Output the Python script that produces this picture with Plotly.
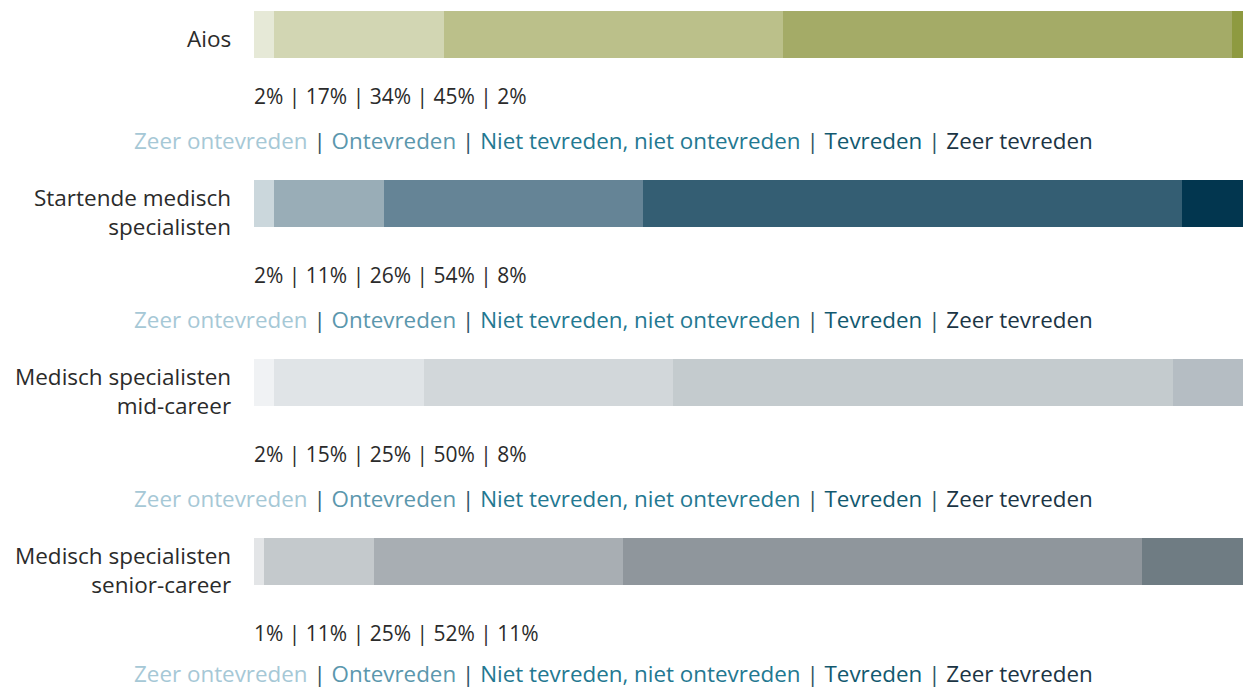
import plotly.graph_objects as go
from plotly.subplots import make_subplots

# Groepen en antwoordcategorieën
GROUPS = ["Aios", "Startende medisch specialisten",
          "Medisch specialisten mid-career", "Medisch specialisten senior-career"]
GROUP_LABELS = ["Aios", "Startende medisch<br>specialisten",
                "Medisch specialisten<br>mid-career",
                "Medisch specialisten<br>senior-career"]
ANSWERS = ["Zeer ontevreden", "Ontevreden", "Niet tevreden, niet ontevreden",
           "Tevreden", "Zeer tevreden"]

aios = [2.0, 17.2, 34.3, 45.4, 1.1]
startende = [2.0, 11.1, 26.2, 54.5, 6.2]
mid_career = [2.0, 15.2, 25.2, 50.5, 7.1]
senior_career = [1.0, 11.1, 25.2, 52.5, 10.2]

# Labels onder de balken
aios_pct = [2, 17, 34, 45, 2]
startende_pct = [2, 11, 26, 54, 8]
mid_career_pct = [2, 15, 25, 50, 8]
senior_career_pct = [1, 11, 25, 52, 11]

VALUES = [aios, startende, mid_career, senior_career]
PCT_LABELS = [aios_pct, startende_pct, mid_career_pct, senior_career_pct]

PALETTES = [
    ["#e6e9d7", "#d2d6b3", "#bbc08a", "#a4ab67", "#8e9a40"],
    ["#cbd7dc", "#99adb7", "#658496", "#345e73", "#02364f"],
    ["#f0f2f4", "#e0e4e7", "#d2d7da", "#c4cbce", "#b5bdc3"],
    ["#e3e5e7", "#c4c9cc", "#a8aeb3", "#8f969c", "#6f7c83"],
]
LEGEND_COLORS = ["#a6c8d6", "#5b97ad", "#237891", "#12596f", "#1b3444"]
SEP_COLOR = "#2f5365"
TEXT_COLOR = "#2b2b2b"
FONT = "'Open Sans', Lato, sans-serif"

W, H = 1243, 689
L = 254
PW = W - L
BAR_TOP = [11, 180, 359, 538]
BAR_H = 47
LABEL_Y = [38, 212, 391, 570]
PCT_Y = [95.5, 274.5, 453.5, 632.5]
LEG_Y = [140, 319, 498, 673]


def py(px):
    """Pixel (van boven) naar paper-coördinaat."""
    return 1 - px / H


def px_x(px):
    return (px - L) / PW


fig = make_subplots(rows=4, cols=1, vertical_spacing=0)

legend_text = " <span style='color:%s'>|</span> " % SEP_COLOR
legend_text = legend_text.join(
    "<span style='color:%s'>%s</span>" % (c, a)
    for c, a in zip(LEGEND_COLORS, ANSWERS))

annotations = []
for i, (group, vals, colors) in enumerate(zip(GROUPS, VALUES, PALETTES)):
    for ans, v, c in zip(ANSWERS, vals, colors):
        fig.add_trace(go.Bar(x=[v], y=[group], orientation="h", name=ans,
                             marker=dict(color=c, line=dict(width=0)),
                             width=1, showlegend=False,
                             hovertemplate=f"{ans}: %{{x:.0f}}%<extra></extra>"),
                      row=i + 1, col=1)
    yname = "yaxis" if i == 0 else f"yaxis{i + 1}"
    fig.layout[yname].domain = [py(BAR_TOP[i] + BAR_H), py(BAR_TOP[i])]

    annotations.append(dict(
        text=GROUP_LABELS[i], xref="paper", yref="paper",
        x=px_x(233), y=py(LABEL_Y[i]), xanchor="right", yanchor="middle",
        align="right", showarrow=False,
        font=dict(size=22.5, color=TEXT_COLOR, family=FONT)))
    annotations.append(dict(
        text=" | ".join(f"{p}%" for p in PCT_LABELS[i]),
        xref="paper", yref="paper", x=px_x(252), y=py(PCT_Y[i]),
        xanchor="left", yanchor="middle", showarrow=False,
        font=dict(size=21, color=TEXT_COLOR, family=FONT)))
    annotations.append(dict(
        text=legend_text, xref="paper", yref="paper",
        x=px_x(613.5), y=py(LEG_Y[i]), xanchor="center", yanchor="middle",
        showarrow=False, borderpad=0, font=dict(size=22.4, family=FONT)))

fig.update_xaxes(range=[0, 100], visible=False, fixedrange=True)
fig.update_yaxes(range=[-0.5, 0.5], visible=False, fixedrange=True)
fig.update_layout(
    barmode="stack", bargap=0,
    width=W, height=H,
    margin=dict(l=L, r=0, t=0, b=0),
    paper_bgcolor="white", plot_bgcolor="white",
    annotations=annotations,
    font=dict(family=FONT, color=TEXT_COLOR),
)

fig.write_html("out.html", config={"displayModeBar": False},
               post_script="document.body.style.margin='0';")
